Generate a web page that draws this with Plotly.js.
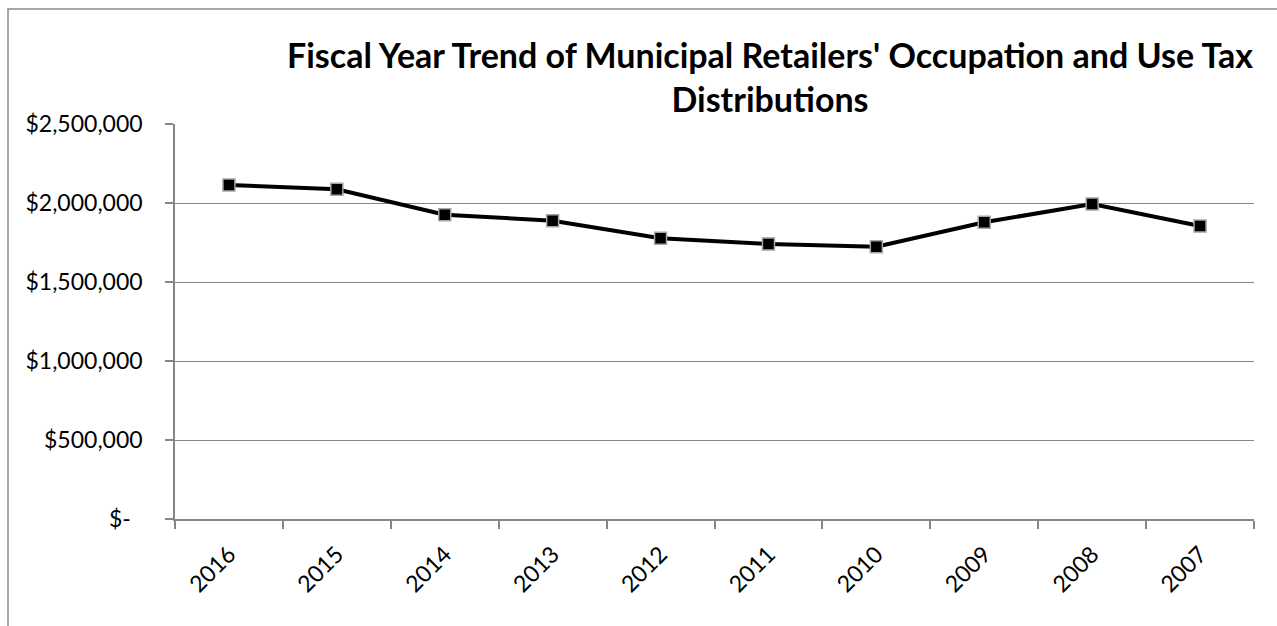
<!DOCTYPE html>
<html>
<head>
<meta charset="utf-8">
<script src="https://cdn.plot.ly/plotly-3.0.1.min.js"></script>
<style>
  html, body { margin: 0; padding: 0; background: #ffffff; }
  #chart { width: 1277px; height: 626px; }
</style>
</head>
<body>
<div id="chart"></div>
<script>
// ---- data ----
const years = ["2016", "2015", "2014", "2013", "2012", "2011", "2010", "2009", "2008", "2007"];
const distributions = [2114000, 2087000, 1926000, 1888000, 1777000, 1741000, 1723000, 1878000, 1994000, 1854000];
const yTickValues = [0, 500000, 1000000, 1500000, 2000000, 2500000];
const yTickLabels = ["$-  ", "$500,000", "$1,000,000", "$1,500,000", "$2,000,000", "$2,500,000"];
const chartTitle = "Fiscal Year Trend of Municipal Retailers' Occupation and Use Tax<br>Distributions";

const FONT = "Lato, 'Open Sans', sans-serif";
const GRID = "#868686";

const trace = {
  type: "scatter",
  mode: "lines+markers",
  x: years,
  y: distributions,
  line: { color: "#000000", width: 4 },
  marker: { symbol: "square", size: 12, color: "#000000", line: { color: "#a6a6a6", width: 1.5 } },
  cliponaxis: false,
  hoverinfo: "x+y"
};

const layout = {
  width: 1277,
  height: 626,
  margin: { l: 175, r: 23, t: 124, b: 107 },
  paper_bgcolor: "#ffffff",
  plot_bgcolor: "#ffffff",
  showlegend: false,
  font: { family: FONT, color: "#000000", size: 23 },
  title: {
    text: chartTitle,
    font: { family: FONT, size: 34, color: "#000000", weight: "bold" },
    x: 770 / 1277,
    xref: "container",
    xanchor: "center",
    y: 1 - 68 / 626,
    yref: "container",
    yanchor: "top"
  },
  xaxis: {
    type: "category",
    range: [-0.5, 9.5],
    tickson: "boundaries",
    ticks: "outside",
    ticklen: 8,
    tickwidth: 1.5,
    tickcolor: GRID,
    showline: true,
    linecolor: GRID,
    linewidth: 1.5,
    showgrid: false,
    tickangle: -45,
    ticklabelstandoff: 11,
    tickfont: { family: FONT, size: 23, color: "#000000" },
    fixedrange: true
  },
  yaxis: {
    range: [0, 2500000],
    tickmode: "array",
    tickvals: yTickValues,
    ticktext: yTickLabels,
    ticks: "outside",
    ticklen: 8,
    tickwidth: 1.5,
    tickcolor: GRID,
    showline: true,
    linecolor: GRID,
    linewidth: 1.5,
    showgrid: true,
    gridcolor: GRID,
    gridwidth: 1.2,
    zeroline: false,
    ticklabelstandoff: 18,
    tickfont: { family: FONT, size: 23, color: "#000000" },
    fixedrange: true
  },
  shapes: [
    {
      type: "rect",
      xref: "paper", yref: "paper",
      x0: (8 - 175) / 1079, x1: 1.3,
      y0: -0.6, y1: 1 + (124 - 9) / 395,
      line: { color: "#8c8c8c", width: 1.5 },
      fillcolor: "rgba(0,0,0,0)",
      layer: "below"
    }
  ]
};

Plotly.newPlot("chart", [trace], layout, { displayModeBar: false, staticPlot: false });
</script>
</body>
</html>
